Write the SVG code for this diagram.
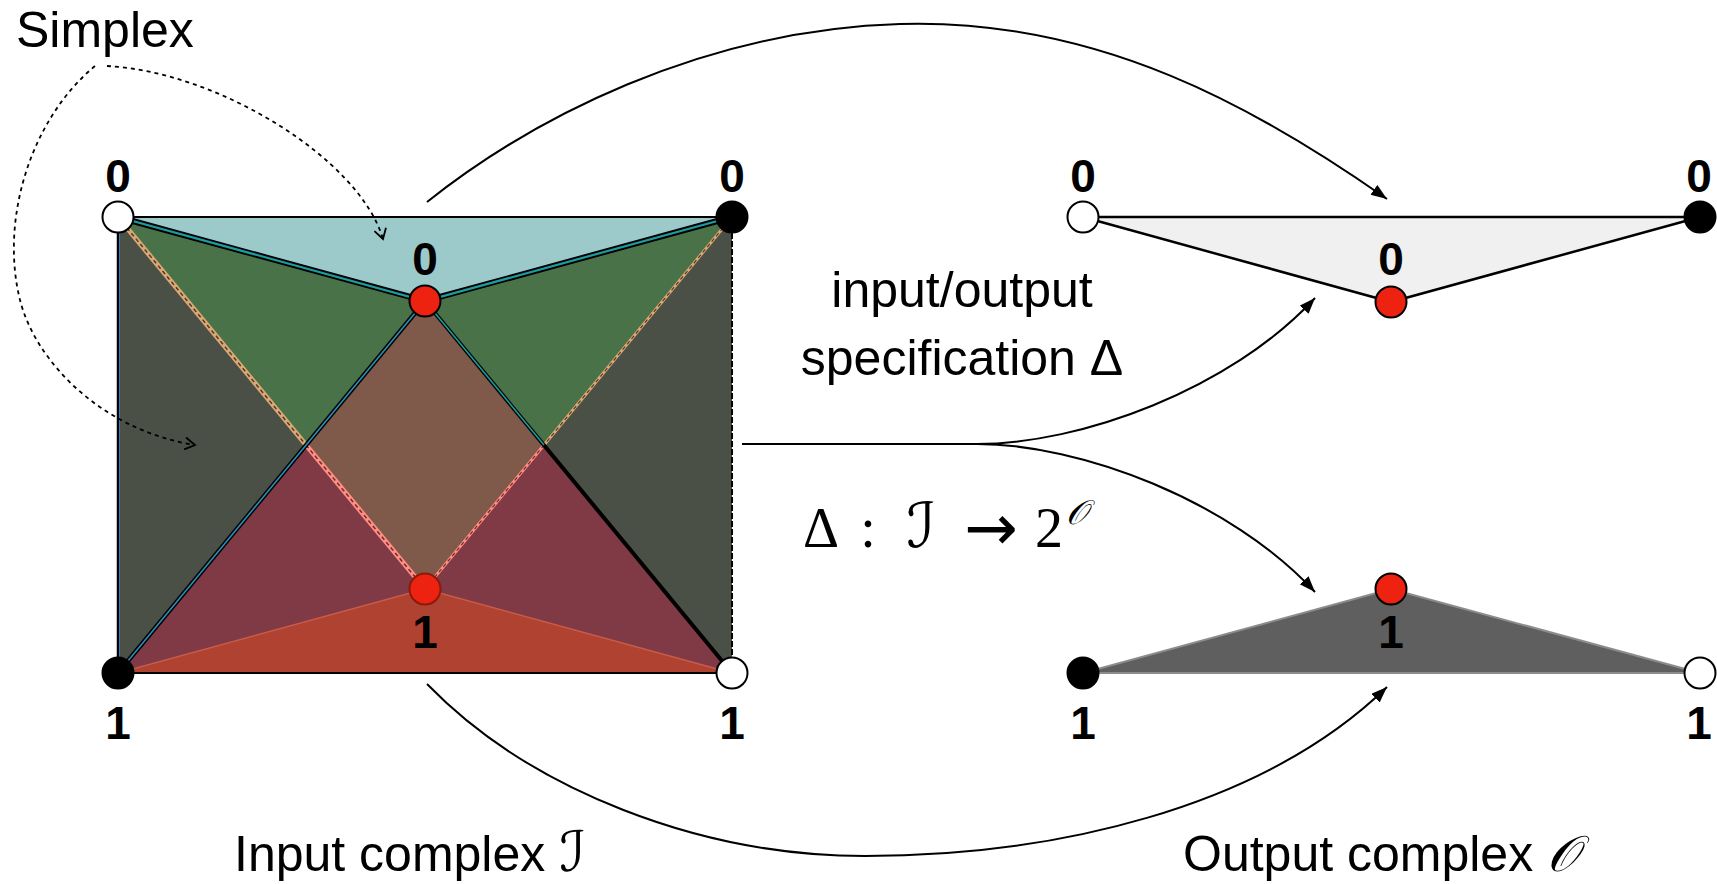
<svg xmlns="http://www.w3.org/2000/svg" width="1717" height="884" viewBox="0 0 1717 884">
<defs>
<style>
.lbl{font-family:"Liberation Sans",Arial,sans-serif;font-weight:bold;font-size:46px;text-anchor:middle;fill:#000}
.txt{font-family:"Liberation Sans",Arial,sans-serif;font-size:50px;fill:#000}
.math{font-family:"Liberation Serif","DejaVu Serif",serif;font-size:56px;fill:#000}
.scr{font-family:"DejaVu Serif","DejaVu Sans","Noto Sans",serif;font-style:italic}
.conn{fill:none;stroke:#000;stroke-width:2}
.dot{fill:none;stroke:#000;stroke-width:1.8;stroke-dasharray:4 4}
.vw{fill:#fff;stroke:#000;stroke-width:2}
.vb{fill:#000;stroke:#000;stroke-width:2}
.vr{fill:#ee2211;stroke:#000;stroke-width:2}
</style>
<marker id="ah" markerUnits="userSpaceOnUse" markerWidth="18" markerHeight="14" refX="16" refY="6" orient="auto"><path d="M0,0 L16,6 L0,12 z" fill="#000"/></marker>
<marker id="oa" markerUnits="userSpaceOnUse" markerWidth="14" markerHeight="16" refX="11" refY="7" orient="auto"><path d="M1,1 L11,7 L1,13" fill="none" stroke="#000" stroke-width="1.8"/></marker>
</defs>
<rect width="1717" height="884" fill="#fff"/>

<g id="input-complex">
<polygon points="118,217 732,217 425,301" fill="#9cc9ca"/>
<polygon points="118,217 425,301 306,445" fill="#4a7248"/>
<polygon points="732,217 425,301 544,445" fill="#4a7248"/>
<polygon points="118,217 306,445 118,673" fill="#4b5047"/>
<polygon points="732,217 544,445 732,673" fill="#4b5047"/>
<polygon points="425,301 544,445 425,589 306,445" fill="#7f5a4a"/>
<polygon points="306,445 425,589 118,673" fill="#7f3a46"/>
<polygon points="544,445 425,589 732,673" fill="#7f3a46"/>
<polygon points="118,673 425,589 732,673" fill="#b04232"/>
<line x1="118" y1="217" x2="732" y2="217" stroke="#000" stroke-width="2"/>
<line x1="118" y1="217" x2="118" y2="673" stroke="#000" stroke-width="2.5"/>
<line x1="119.5" y1="230" x2="119.5" y2="660" stroke="#2d7fc0" stroke-width="1"/>
<line x1="732" y1="217" x2="732" y2="673" stroke="#000" stroke-width="2" stroke-dasharray="6 2"/>
<line x1="118" y1="673" x2="732" y2="673" stroke="#000" stroke-width="2"/>
<line x1="118" y1="673" x2="425" y2="589" stroke="#c85a48" stroke-width="1.5"/>
<line x1="732" y1="673" x2="425" y2="589" stroke="#c85a48" stroke-width="1.5"/>
<line x1="118" y1="217" x2="306" y2="445" stroke="#d9a878" stroke-width="5"/>
<line x1="118" y1="217" x2="306" y2="445" stroke="#5a3a1a" stroke-width="1.5" stroke-dasharray="4 3"/>
<line x1="306" y1="445" x2="425" y2="589" stroke="#ff8d85" stroke-width="5"/>
<line x1="306" y1="445" x2="425" y2="589" stroke="#7a2a20" stroke-width="1.5" stroke-dasharray="4 3"/>
<line x1="732" y1="217" x2="544" y2="445" stroke="#d9a878" stroke-width="3"/>
<line x1="732" y1="217" x2="544" y2="445" stroke="#5a3a1a" stroke-width="1.2" stroke-dasharray="4 3"/>
<line x1="544" y1="445" x2="425" y2="589" stroke="#ff8d85" stroke-width="3"/>
<line x1="544" y1="445" x2="425" y2="589" stroke="#7a2a20" stroke-width="1.2" stroke-dasharray="4 3"/>
<polyline points="118,217 425,301 732,217" fill="none" stroke="#000" stroke-width="6"/>
<polyline points="118,217 425,301 732,217" fill="none" stroke="#1e9ba0" stroke-width="2.2"/>
<line x1="425" y1="301" x2="118" y2="673" stroke="#000" stroke-width="4.5"/>
<line x1="425" y1="301" x2="118" y2="673" stroke="#2a8fb8" stroke-width="1.6"/>
<line x1="425" y1="301" x2="732" y2="673" stroke="#000" stroke-width="4"/>
<line x1="425" y1="301" x2="544" y2="445" stroke="#1e9ba0" stroke-width="1.6"/>
<circle class="vw" cx="118" cy="217" r="15.5"/>
<circle class="vb" cx="732" cy="217" r="15.5"/>
<circle class="vr" cx="425" cy="301" r="15.5"/>
<circle cx="425" cy="589" r="15.5" fill="#ee2211" stroke="#8b1a0a" stroke-width="2"/>
<circle class="vb" cx="118" cy="673" r="15.5"/>
<circle class="vw" cx="732" cy="673" r="15.5"/>
<text class="lbl" x="118" y="192">0</text>
<text class="lbl" x="732" y="192">0</text>
<text class="lbl" x="425" y="275">0</text>
<text class="lbl" x="425" y="648">1</text>
<text class="lbl" x="118" y="739">1</text>
<text class="lbl" x="732" y="739">1</text>
</g>

<g id="output-spec">
<polygon points="1083,217 1700,217 1391,302" fill="#f0f0f0" stroke="#000" stroke-width="2.5" stroke-linejoin="round"/>
<circle class="vw" cx="1083" cy="217" r="15.5"/>
<circle class="vb" cx="1700" cy="217" r="15.5"/>
<circle class="vr" cx="1391" cy="302" r="15.5"/>
<text class="lbl" x="1083" y="192">0</text>
<text class="lbl" x="1699" y="192">0</text>
<text class="lbl" x="1391" y="275">0</text>
</g>

<g id="output-complex">
<polygon points="1083,673 1391,589 1700,673" fill="#5f5f5f" stroke="#8c8c8c" stroke-width="2" stroke-linejoin="round"/>
<circle class="vb" cx="1083" cy="673" r="15.5"/>
<circle class="vw" cx="1700" cy="673" r="15.5"/>
<circle class="vr" cx="1391" cy="589" r="15.5"/>
<text class="lbl" x="1391" y="648">1</text>
<text class="lbl" x="1083" y="739">1</text>
<text class="lbl" x="1699" y="739">1</text>
</g>

<g id="connectors">
<path class="conn" d="M427,202 C530,120 700,30 900,24 C1100,18 1260,110 1387,199" marker-end="url(#ah)"/>
<path class="conn" d="M742,444 L977,444 C1080,444 1230,390 1315,298" marker-end="url(#ah)"/>
<path class="conn" d="M742,444 L977,444 C1080,444 1230,500 1315,592" marker-end="url(#ah)"/>
<path class="conn" d="M427,684 C530,790 700,856 865,856 C1050,856 1260,810 1387,687" marker-end="url(#ah)"/>
<path class="dot" d="M107,66 C220,72 360,160 383,239" marker-end="url(#oa)"/>
<path class="dot" d="M95,66 C30,120 0,220 20,300 C35,360 100,430 195,445" marker-end="url(#oa)"/>
</g>

<g id="labels">
<text class="txt" x="16" y="47">Simplex</text>
<text class="txt" x="962" y="307" text-anchor="middle">input/output</text>
<text class="txt" x="962" y="375" text-anchor="middle">specification Δ</text>
<text class="txt" x="234" y="871">Input complex <tspan class="scr" font-size="56">ℐ</tspan></text>
<text class="txt" x="1183" y="871">Output complex <tspan class="scr">𝒪</tspan></text>
<g id="formula" class="math">
<text x="803" y="547">Δ</text>
<text x="868" y="547" text-anchor="middle">:</text>
<text x="921" y="547" class="scr" font-size="62" text-anchor="middle">ℐ</text>
<text x="964" y="550" font-family="DejaVu Sans, sans-serif" font-size="64">→</text>
<text x="1035" y="547">2</text>
<text x="1066" y="524" class="scr" font-size="34">𝒪</text>
</g>
</g>
</svg>
